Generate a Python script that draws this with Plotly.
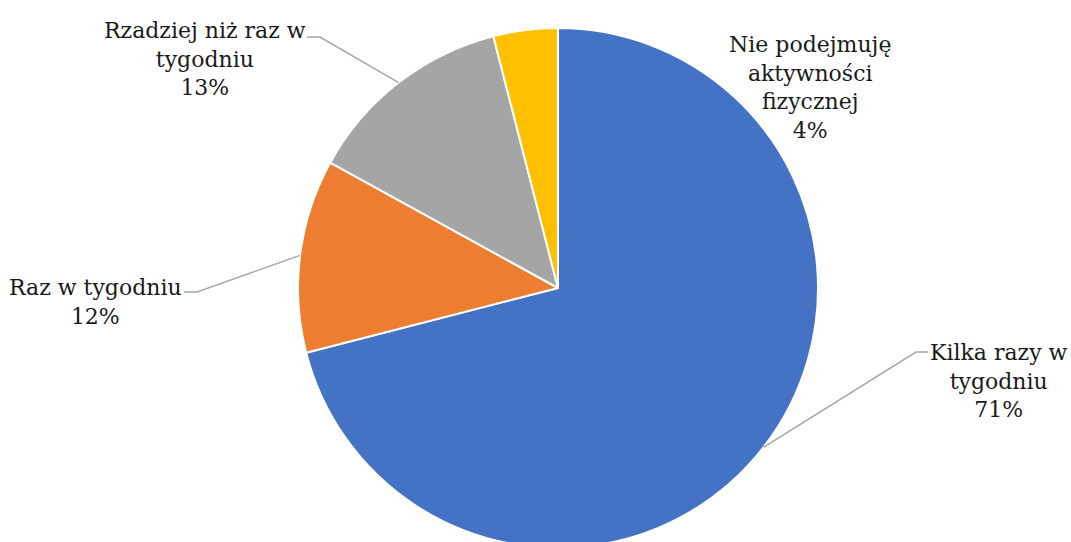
import math
import plotly.graph_objects as go

# Survey answers: how often respondents take up physical activity
categories = [
    "Kilka razy w tygodniu",
    "Raz w tygodniu",
    "Rzadziej niż raz w tygodniu",
    "Nie podejmuję aktywności fizycznej",
]
label_texts = [
    "Kilka razy w<br>tygodniu<br>71%",
    "Raz w tygodniu<br>12%",
    "Rzadziej niż raz w<br>tygodniu<br>13%",
    "Nie podejmuję<br>aktywności<br>fizycznej<br>4%",
]
values = [71, 12, 13, 4]
colors = ["#4472C4", "#ED7D31", "#A5A5A5", "#FFC000"]

W, H = 1071, 560
CX, CY, R = 558, 288, 260          # pie centre and radius in pixels

# label block centres (px) and leader-line elbows (px); None = no leader
label_pos = [(999, 381), (95, 302), (205, 59), (810, 87)]
elbows = [((916, 352), (928, 352)),
          ((197, 292), (184, 292)),
          ((320, 37), (307, 37)),
          None]


def px(x, y):
    return x / W, 1 - y / H


fig = go.Figure(go.Pie(
    labels=categories,
    values=values,
    sort=False,
    direction="clockwise",
    rotation=0,
    marker=dict(colors=colors, line=dict(color="white", width=2)),
    textinfo="none",
    hoverinfo="label+percent",
    domain=dict(x=[(CX - 300) / W, (CX + 300) / W],
                y=[1 - (CY + R) / H, 1 - (CY - R) / H]),
    showlegend=False,
))

total = sum(values)
cum = 0
shapes = []
annotations = []
for v, txt, (lx, ly), elb in zip(values, label_texts, label_pos, elbows):
    mid = (cum + v / 2) / total * 2 * math.pi
    cum += v
    ex = CX + R * math.sin(mid)
    ey = CY - R * math.cos(mid)
    if elb is not None:
        pts = [(ex, ey), elb[0], elb[1]]
        path = "M " + " L ".join(f"{px(x, y)[0]:.5f},{px(x, y)[1]:.5f}" for x, y in pts)
        shapes.append(dict(type="path", xref="paper", yref="paper", path=path,
                           line=dict(color="#A6A6A6", width=1.5)))
    ax, ay = px(lx, ly)
    annotations.append(dict(
        x=ax, y=ay, xref="paper", yref="paper", text=txt, showarrow=False,
        xanchor="center", yanchor="middle", align="center",
        font=dict(family="DejaVu Serif", size=22, color="#1a1a1a"),
    ))

fig.update_layout(
    width=W, height=H,
    margin=dict(l=0, r=0, t=0, b=0),
    paper_bgcolor="white",
    plot_bgcolor="white",
    shapes=shapes,
    annotations=annotations,
)

fig.write_html(
    "out.html",
    post_script="document.documentElement.style.overflow='hidden';"
                "document.body.style.overflow='hidden';document.body.style.margin='0';",
)
